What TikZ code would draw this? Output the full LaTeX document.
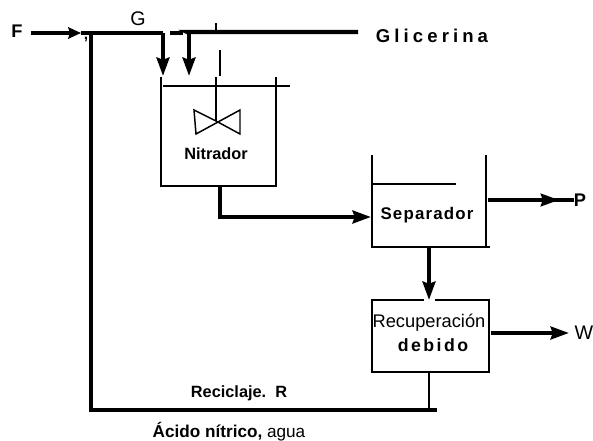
\documentclass[tikz,border=0pt]{standalone}
\usepackage{fontspec}
\setmainfont{Liberation Sans}
\usetikzlibrary{arrows.meta,calc,positioning}

\begin{document}
\begin{tikzpicture}[x=.025cm,y=-.025cm,line join=miter,
  label/.style={font=\fontsize{11.6}{13}\selectfont\bfseries,inner sep=0pt},
  tag/.style={font=\fontsize{13}{15}\selectfont\bfseries,inner sep=0pt},
  plaintag/.style={font=\fontsize{14}{16}\selectfont,inner sep=0pt},
  spaced/.style={font=\fontsize{12}{14}\selectfont\bfseries\addfontfeatures{LetterSpace=7},inner sep=0pt},
  wall/.style={line width=1.9pt},
  thin wall/.style={line width=1pt},
  stream/.style={line width=3pt},
  feed/.style={line width=2.3pt},
  flow/.style={-{Stealth[length=13pt,width=9pt,inset=1.5pt]}},
  small flow/.style={-{Stealth[length=9pt,width=8pt,inset=1pt]}}]
  \useasboundingbox (0,0) rectangle (593,441);

  % Labels of the streams.
  \node[tag] (F) at (17,31) {F};
  \node[plaintag] (G) at (138,19) {G};
  \node[font=\fontsize{13.2}{15}\selectfont\bfseries\addfontfeatures{LetterSpace=22},inner sep=0pt] (glicerina) at (432,36) {Glicerina};
  \node[tag] (P) at (580,200) {P};
  \node[plaintag] (W) at (584,333) {W};
  \node[label] (reciclaje) at (239,393) {Reciclaje.\ \ R};
  \node[font=\fontsize{12.2}{14}\selectfont,inner sep=0pt] (acido) at (229,432) {{\bfseries Ácido nítrico,} agua};
  \node[inner sep=0pt,font=\fontsize{11}{12}\selectfont\bfseries] (coma) at (86,40) {,};

  % Feed line and recycle.
  \coordinate (inG) at (163,33);
  \coordinate (inN) at (189,33);
  \coordinate (feedA) at (81,33);
  \coordinate (tee) at (91,33);
  \coordinate (cornerR) at (91,410);
  \coordinate (endR) at (435,410);
  \coordinate (topN) at (163,76);
  \coordinate (topA) at (189,76);
  \draw[feed,small flow] (31,33) -- (feedA);
  \draw[feed] (feedA) -- (inG);
  \draw[feed] (170,33) -- (183,33);
  \draw[stream,line cap=rect] (tee) -- (cornerR);
  \draw[feed,line cap=rect] (cornerR) -- (endR);
  \draw[stream] (358,32) -- (187,32) -- (inN);
  \draw[stream,flow] (inG) -- (topN);
  \draw[stream,flow] (inN) -- (topA);
  \draw[wall] (216,23) -- (216,32);

  % Nitrator tank and stirrer.
  \draw[wall] (161,77) -- (161,186) -- (276,186) -- (276,77);
  \draw[thin wall] (163,86) -- (290,86);
  \draw[thin wall] (220,50) -- (220,76);
  \draw[wall] (216,77) -- (216,121);
  \draw[line width=1.05pt] (216,121) -- (194,110) -- (196,134) -- (240,110) -- (240,134) -- cycle;
  \node[label] (nitrador) at (216,154) {Nitrador};

  % Separator.
  \draw[wall] (372,155) -- (372,247) -- (490,247);
  \draw[wall] (486,155) -- (486,247);
  \draw[thin wall] (373,184) -- (456,184);
  \node[spaced] (separador) at (427,215) {Separador};

  % Recovery.
  \node[draw,line width=1.9pt,inner sep=0pt,minimum width=2.925cm,minimum height=1.8cm] (caja) at (430.5,336) {};
  \node[font=\fontsize{13}{15}\selectfont,inner sep=0pt] (recuperacion) at (429,323) {Recuperación};
  \node[font=\fontsize{12.6}{15}\selectfont\bfseries\addfontfeatures{LetterSpace=14},inner sep=0pt] (debido) at (433,345) {debido};
  \draw[white,line width=2.4pt] (424,300) -- (435,300);

  % Connections between units.
  \coordinate (salN) at (220,186);
  \coordinate (codoN) at (220,217);
  \coordinate (entS) at (371,217);
  \draw[stream,flow] (salN) -- (codoN) -- (entS);
  \coordinate (salS) at (429,247);
  \draw[stream,flow] (salS) -- (429,300);
  \draw[feed] (488,200) -- (P.west);
  \draw[feed,flow] (488,200) -- (559,200);
  \draw[stream,flow] (491,333) -- (569,333);
  \draw[wall] (429,372) -- (429,410);
\end{tikzpicture}
\end{document}
